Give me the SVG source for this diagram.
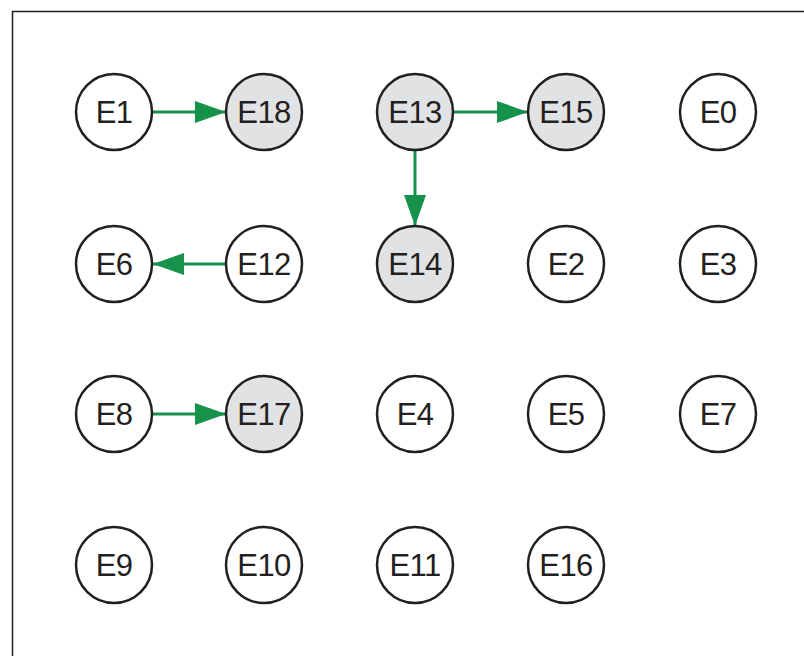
<svg xmlns="http://www.w3.org/2000/svg" width="804" height="656" viewBox="0 0 804 656">
<defs>
<marker id="ah" markerUnits="userSpaceOnUse" markerWidth="32" markerHeight="24" refX="31" refY="11" orient="auto">
<path d="M0,0 L31,11 L0,22 Z" fill="#16924a"/>
</marker>
<style>
.n circle{fill:#fff;stroke:#231f20;stroke-width:2.5}
.g circle{fill:#e1e2e4}
.n text{font-family:"Liberation Sans",Arial,sans-serif;font-size:31px;letter-spacing:-0.6px;fill:#231f20;text-anchor:middle}
.e{stroke:#16924a;stroke-width:3;fill:none;marker-end:url(#ah)}
</style>
</defs>
<rect width="804" height="656" fill="#fff"/>
<path d="M12.5,656 V11.5 H804" fill="none" stroke="#231f20" stroke-width="1.5"/>
<g id="connectors">
<line class="e" x1="152" y1="112" x2="226" y2="112"/>
<line class="e" x1="453" y1="112" x2="528" y2="112"/>
<line class="e" x1="415" y1="150" x2="415" y2="226"/>
<line class="e" x1="226" y1="264" x2="153" y2="264"/>
<line class="e" x1="152" y1="414" x2="226" y2="414"/>
</g>
<g id="E1" class="n"><circle cx="114" cy="112" r="38"/><text x="114" y="123">E1</text></g>
<g id="E18" class="n g"><circle cx="264" cy="112" r="38"/><text x="264" y="123">E18</text></g>
<g id="E13" class="n g"><circle cx="415" cy="112" r="38"/><text x="415" y="123">E13</text></g>
<g id="E15" class="n g"><circle cx="566" cy="112" r="38"/><text x="566" y="123">E15</text></g>
<g id="E0" class="n"><circle cx="718" cy="112" r="38"/><text x="718" y="123">E0</text></g>
<g id="E6" class="n"><circle cx="114" cy="264" r="38"/><text x="114" y="275">E6</text></g>
<g id="E12" class="n"><circle cx="264" cy="264" r="38"/><text x="264" y="275">E12</text></g>
<g id="E14" class="n g"><circle cx="415" cy="264" r="38"/><text x="415" y="275">E14</text></g>
<g id="E2" class="n"><circle cx="566" cy="264" r="38"/><text x="566" y="275">E2</text></g>
<g id="E3" class="n"><circle cx="718" cy="264" r="38"/><text x="718" y="275">E3</text></g>
<g id="E8" class="n"><circle cx="114" cy="414" r="38"/><text x="114" y="425">E8</text></g>
<g id="E17" class="n g"><circle cx="264" cy="414" r="38"/><text x="264" y="425">E17</text></g>
<g id="E4" class="n"><circle cx="415" cy="414" r="38"/><text x="415" y="425">E4</text></g>
<g id="E5" class="n"><circle cx="566" cy="414" r="38"/><text x="566" y="425">E5</text></g>
<g id="E7" class="n"><circle cx="718" cy="414" r="38"/><text x="718" y="425">E7</text></g>
<g id="E9" class="n"><circle cx="114" cy="565" r="38"/><text x="114" y="576">E9</text></g>
<g id="E10" class="n"><circle cx="264" cy="565" r="38"/><text x="264" y="576">E10</text></g>
<g id="E11" class="n"><circle cx="415" cy="565" r="38"/><text x="415" y="576">E11</text></g>
<g id="E16" class="n"><circle cx="566" cy="565" r="38"/><text x="566" y="576">E16</text></g>
</svg>
